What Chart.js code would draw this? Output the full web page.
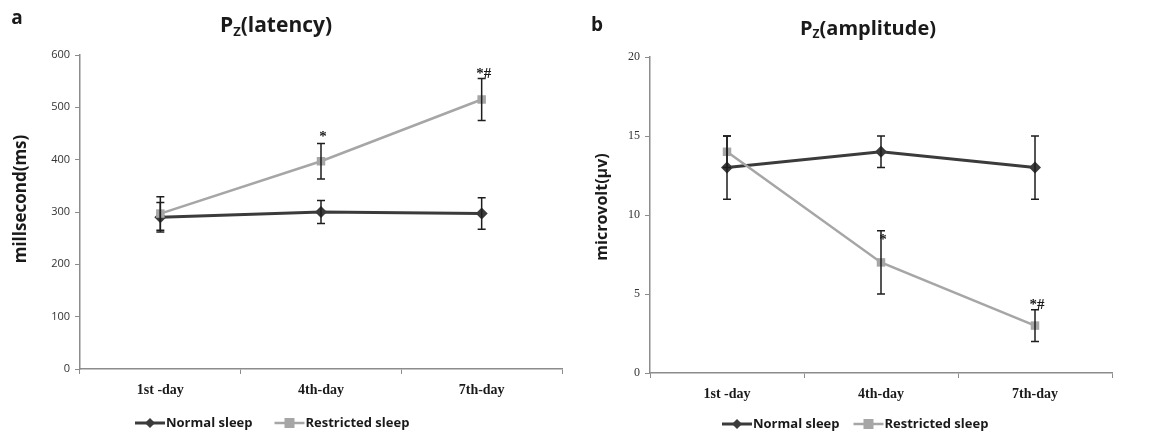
<!DOCTYPE html>
<html>
<head>
<meta charset="utf-8">
<script src="https://cdn.jsdelivr.net/npm/chart.js@4.4.1/dist/chart.umd.min.js"></script>
<style>
  body { margin: 0; background: #fff; }
  #wrap { position: relative; width: 1153px; height: 432px; }
  .panel { position: absolute; top: 0; height: 432px; }
  #panelA { left: 0; width: 580px; }
  #panelB { left: 580px; width: 573px; }
</style>
</head>
<body>
<div id="wrap">
  <div class="panel" id="panelA"><canvas id="latencyChart"></canvas></div>
  <div class="panel" id="panelB"><canvas id="amplitudeChart"></canvas></div>
</div>
<script>
const categories = ["1st -day", "4th-day", "7th-day"];
const seriesNames = ["Normal sleep", "Restricted sleep"];

const latencyNormal = [290, 300, 297];
const latencyNormalErr = [28, 22, 30];
const latencyRestricted = [297, 397, 515];
const latencyRestrictedErr = [32, 34, 40];
const latencyMarks = [null, "*", "*#"];
const latencyMarkAt = [null, 443, 564];

const amplitudeNormal = [13, 14, 13];
const amplitudeNormalErr = [2, 1, 2];
const amplitudeRestricted = [14, 7, 3];
const amplitudeRestrictedErr = [1, 2, 1];
const amplitudeMarks = [null, "*", "*#"];
const amplitudeMarkAt = [null, 8.4, 4.3];

const palette = {
  normal: "#3b3b3b",
  restricted: "#a6a6a6",
  err: "#1e1e1e",
  axis: "#8c8c8c",
  text: "#1a1a1a",
};

const errorBarPlugin = {
  id: "errorBars",
  afterDatasetsDraw(chart) {
    const ctx = chart.ctx;
    const y = chart.scales.y;
    ctx.save();
    chart.data.datasets.forEach((ds, di) => {
      const meta = chart.getDatasetMeta(di);
      (ds.errors || []).forEach((e, i) => {
        const pt = meta.data[i];
        const top = y.getPixelForValue(ds.data[i] + e);
        const bot = y.getPixelForValue(ds.data[i] - e);
        ctx.strokeStyle = palette.err;
        ctx.lineWidth = 1.5;
        ctx.beginPath();
        ctx.moveTo(pt.x, top); ctx.lineTo(pt.x, bot);
        ctx.moveTo(pt.x - 4, top); ctx.lineTo(pt.x + 4, top);
        ctx.moveTo(pt.x - 4, bot); ctx.lineTo(pt.x + 4, bot);
        ctx.stroke();
      });
      (ds.marks || []).forEach((m, i) => {
        if (!m) return;
        const pt = meta.data[i];
        ctx.fillStyle = palette.text;
        ctx.font = "bold 15px 'Liberation Serif'";
        ctx.textAlign = "center";
        ctx.textBaseline = "middle";
        ctx.fillText(m, pt.x + 2, y.getPixelForValue(ds.markAt[i]));
      });
    });
    ctx.restore();
  },
};

// titles, panel letters, y titles and bottom legend
const decorPlugin = {
  id: "decor",
  afterDraw(chart, args, opts) {
    const ctx = chart.ctx;
    ctx.save();
    ctx.fillStyle = palette.text;
    ctx.textBaseline = "middle";

    ctx.font = "bold 19px 'Open Sans'";
    ctx.textAlign = "center";
    ctx.fillText(opts.letter, opts.letterX, opts.letterY);

    // title with subscript Z
    const bigFont = `bold ${opts.titleSize}px 'Open Sans'`;
    const subFont = `bold ${Math.round(opts.titleSize * 0.62)}px 'Open Sans'`;
    ctx.font = bigFont;
    const wP = ctx.measureText("P").width;
    const wRest = ctx.measureText(opts.title).width;
    ctx.font = subFont;
    const wZ = ctx.measureText("Z").width;
    let x = opts.titleX - (wP + wZ + wRest) / 2;
    ctx.textAlign = "left";
    ctx.font = bigFont;
    ctx.fillText("P", x, opts.titleY);
    x += wP;
    ctx.font = subFont;
    ctx.fillText("Z", x, opts.titleY + 6);
    x += wZ;
    ctx.font = bigFont;
    ctx.fillText(opts.title, x, opts.titleY);

    // y title
    ctx.save();
    ctx.translate(opts.yTitleX, opts.yTitleY);
    ctx.rotate(-Math.PI / 2);
    ctx.textAlign = "center";
    ctx.font = `bold ${opts.yTitleSize}px 'Open Sans'`;
    ctx.fillText(opts.yTitle, 0, 0);
    ctx.restore();

    // legend
    let lx = opts.legendX;
    const ly = opts.legendY;
    ctx.font = "bold 13px 'Open Sans'";
    ctx.textAlign = "left";
    chart.data.datasets.forEach((ds) => {
      ctx.strokeStyle = ds.borderColor;
      ctx.lineWidth = ds.borderWidth;
      ctx.beginPath();
      ctx.moveTo(lx, ly); ctx.lineTo(lx + 30, ly);
      ctx.stroke();
      ctx.fillStyle = ds.backgroundColor;
      if (ds.pointStyle === "rectRot") {
        ctx.beginPath();
        ctx.moveTo(lx + 15, ly - 5); ctx.lineTo(lx + 20, ly);
        ctx.lineTo(lx + 15, ly + 5); ctx.lineTo(lx + 10, ly);
        ctx.closePath(); ctx.fill();
      } else {
        ctx.fillRect(lx + 10, ly - 5, 10, 10);
      }
      ctx.fillStyle = palette.text;
      ctx.fillText(ds.label, lx + 31, ly);
      lx += 31 + ctx.measureText(ds.label).width + opts.legendGap;
    });
    ctx.restore();
  },
};

function makeDatasets(normal, normalErr, restricted, restrictedErr, marks, markAt) {
  return [
    {
      label: seriesNames[0],
      data: normal,
      errors: normalErr,
      borderColor: palette.normal,
      backgroundColor: palette.normal,
      borderWidth: 3,
      pointStyle: "rectRot",
      pointRadius: 6,
      pointBorderWidth: 0,
      order: 2,
    },
    {
      label: seriesNames[1],
      data: restricted,
      errors: restrictedErr,
      marks: marks,
      markAt: markAt,
      borderColor: palette.restricted,
      backgroundColor: palette.restricted,
      borderWidth: 2.5,
      pointStyle: "rect",
      pointRadius: 6,
      pointBorderWidth: 0,
      order: 1,
    },
  ];
}

function makeOptions(cfg) {
  return {
    responsive: true,
    maintainAspectRatio: false,
    animation: false,
    layout: { padding: { top: cfg.top, right: cfg.right, bottom: 0, left: 0 } },
    plugins: {
      legend: { display: false },
      tooltip: { enabled: false },
      decor: cfg.decor,
    },
    scales: {
      x: {
        offset: true,
        afterFit: (s) => { s.height = cfg.xHeight; },
        grid: { offset: true, drawOnChartArea: false, tickLength: 5, color: palette.axis },
        border: { color: palette.axis, width: 1.5 },
        ticks: {
          padding: 8,
          color: palette.text,
          font: { family: "'Liberation Serif'", size: 14, weight: "bold" },
        },
      },
      y: {
        min: 0,
        max: cfg.max,
        afterFit: (s) => { s.width = cfg.yWidth; },
        grid: { drawOnChartArea: false, tickLength: 5, color: palette.axis },
        border: { color: palette.axis, width: 1.5 },
        ticks: {
          stepSize: cfg.step,
          padding: 5,
          color: "#333",
          font: cfg.tickFont,
        },
      },
    },
  };
}

new Chart(document.getElementById("latencyChart"), {
  type: "line",
  data: {
    labels: categories,
    datasets: makeDatasets(latencyNormal, latencyNormalErr, latencyRestricted, latencyRestrictedErr, latencyMarks, latencyMarkAt),
  },
  options: makeOptions({
    top: 55, right: 18, xHeight: 63, yWidth: 80, max: 600, step: 100,
    tickFont: { family: "'Open Sans'", size: 11 },
    decor: {
      letter: "a", letterX: 17, letterY: 19,
      title: "(latency)", titleX: 276, titleY: 26, titleSize: 21,
      yTitle: "millsecond(ms)", yTitleX: 21, yTitleY: 199, yTitleSize: 17,
      legendX: 135, legendY: 423, legendGap: 22,
    },
  }),
  plugins: [errorBarPlugin, decorPlugin],
});

new Chart(document.getElementById("amplitudeChart"), {
  type: "line",
  data: {
    labels: categories,
    datasets: makeDatasets(amplitudeNormal, amplitudeNormalErr, amplitudeRestricted, amplitudeRestrictedErr, amplitudeMarks, amplitudeMarkAt),
  },
  options: makeOptions({
    top: 57, right: 41, xHeight: 59, yWidth: 70, max: 20, step: 5,
    tickFont: { family: "'Liberation Serif'", size: 12 },
    decor: {
      letter: "b", letterX: 17, letterY: 26,
      title: "(amplitude)", titleX: 288, titleY: 29, titleSize: 20,
      yTitle: "microvolt(\u03bcv)", yTitleX: 22, yTitleY: 207, yTitleSize: 16,
      legendX: 142, legendY: 424, legendGap: 14,
    },
  }),
  plugins: [errorBarPlugin, decorPlugin],
});
</script>
</body>
</html>
